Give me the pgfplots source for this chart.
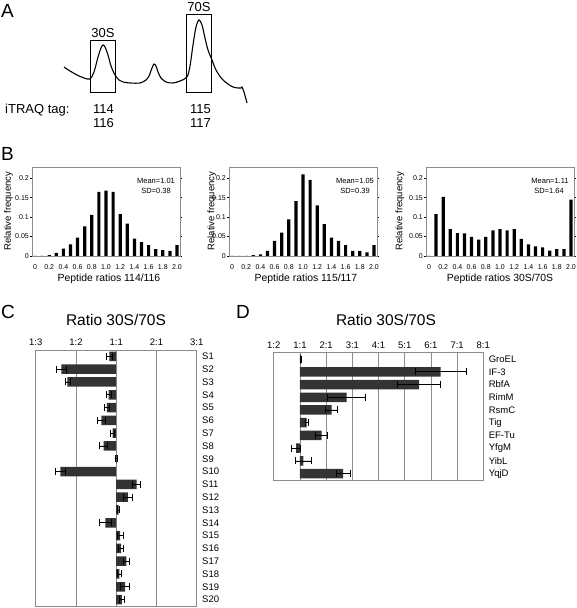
\documentclass[border=0pt]{standalone}
\usepackage{fontspec}
\setmainfont{Liberation Sans}
\usepackage{pgfplots}
\pgfplotsset{compat=1.18}
\definecolor{barc}{HTML}{333333}
\definecolor{gridc}{HTML}{8C8C8C}
\newcommand{\fs}[1]{\fontsize{#1}{#1}\selectfont}
\begin{document}
\begin{tikzpicture}
\path[use as bounding box] (0,0) rectangle (576pt,608pt);
\pgfplotsset{
  /pgf/number format/assume math mode=true,
  hist/.style={anchor=south west, scale only axis, width=148pt, height=89pt,
    ymin=0, ymax=0.229, xmin=-0.042, xmax=2.042, ybar, bar width=3.2pt,
    axis line style={gridc, line width=0.6pt},
    xtick={0,0.2,0.4,0.6,0.8,1,1.2,1.4,1.6,1.8,2},
    xticklabels={0,0.2,0.4,0.6,0.8,1.0,1.2,1.4,1.6,1.8,2.0},
    ytick={0,0.05,0.1,0.15,0.2}, yticklabels={0,0.05,0.1,0.15,0.2},
    tick label style={font=\fs{7}}, xtick style={draw=none},
    ytick style={black, line width=0.5pt}, tick align=outside, major tick length=2pt,
    xticklabel style={yshift=-3pt}, yticklabel style={inner sep=1pt}},
  ratio/.style={anchor=south west, scale only axis, xbar, bar width=9.5pt,
    axis line style={gridc, line width=0.7pt}, xmajorgrids, grid style={gridc, line width=0.7pt},
    major tick length=0pt, xticklabel pos=top, yticklabel pos=right,
    tick label style={font=\fs{9.5}}, yticklabel style={anchor=west, xshift=2pt},
    xticklabel style={yshift=1pt}},
  ebar/.style={fill=barc, draw=none, error bars/.cd, x dir=both, x explicit, error mark=|,
    error bar style={black, line width=0.8pt}, error mark options={black, mark size=3.5pt, line width=0.8pt}}
}
% overlay axis: panel A, letters and texts (pixel coordinates)
\begin{axis}[at={(0pt,0pt)}, anchor=south west, scale only axis, width=576pt, height=608pt,
  xmin=0, xmax=576, ymin=0, ymax=608, y dir=reverse, axis lines=none, clip=false]
\addplot[black, line width=1.1pt, smooth, tension=0.5] coordinates {
(64,67)(70,71)(77,75)(84,78)(90,79)(94,72)(98,57)(101,48)(103,45)(105,47)(108,55)(111,66)(115,75)(119,80)(123,82)(130,83)(140,83)(146,80)(149,76)(152,68)(154,64)(156,66)(158,72)(161,78)(166,82)(173,83)(180,81)(187,77)(190,66)(193,45)(196,27)(199,20)(202,25)(205,38)(208,50)(212,60)(216,70)(222,79)(228,84)(233,87)(238,88)(241,88)(242,87)(244,92)(247,103)};
\draw[black, line width=1pt] (axis cs:90,40.7) rectangle (axis cs:115.7,92.3);
\draw[black, line width=1pt] (axis cs:186.7,15) rectangle (axis cs:211,92.3);
\node[font=\fs{13}] at (axis cs:103,33) {30S};
\node[font=\fs{13}] at (axis cs:199,7) {70S};
\node[font=\fs{13}, anchor=base west, inner sep=0pt] at (axis cs:5,114) {iTRAQ tag:};
\node[font=\fs{13}, anchor=base, inner sep=0pt] at (axis cs:103.5,113.3) {114};
\node[font=\fs{13}, anchor=base, inner sep=0pt] at (axis cs:103.5,128) {116};
\node[font=\fs{13}, anchor=base, inner sep=0pt] at (axis cs:200.5,113.3) {115};
\node[font=\fs{13}, anchor=base, inner sep=0pt] at (axis cs:200.5,128) {117};
\node[font=\fs{19}, inner sep=0pt] at (axis cs:7.5,10.5) {A};
\node[font=\fs{19}, inner sep=0pt] at (axis cs:7.5,153.5) {B};
\node[font=\fs{19}, inner sep=0pt] at (axis cs:8,311.5) {C};
\node[font=\fs{19}, inner sep=0pt] at (axis cs:243,311.5) {D};
\node[font=\fs{15.5}, inner sep=0pt] at (axis cs:116,320) {Ratio 30S/70S};
\node[font=\fs{15.5}, inner sep=0pt] at (axis cs:386,320) {Ratio 30S/70S};
\node[font=\fs{7.5}, inner sep=0pt] at (axis cs:156,181) {Mean=1.01};
\node[font=\fs{7.5}, inner sep=0pt] at (axis cs:156,191) {SD=0.38};
\node[font=\fs{7.5}, inner sep=0pt] at (axis cs:355,181) {Mean=1.05};
\node[font=\fs{7.5}, inner sep=0pt] at (axis cs:355,191) {SD=0.39};
\node[font=\fs{7.5}, inner sep=0pt] at (axis cs:550,181) {Mean=1.11};
\node[font=\fs{7.5}, inner sep=0pt] at (axis cs:549,191) {SD=1.64};
\node[font=\fs{9.5}, rotate=90, inner sep=0pt] at (axis cs:8.5,211) {Relative frequency};
\node[font=\fs{9.5}, rotate=90, inner sep=0pt] at (axis cs:212,211) {Relative frequency};
\node[font=\fs{9.5}, rotate=90, inner sep=0pt] at (axis cs:400,211) {Relative frequency};
\node[font=\fs{10.4}, inner sep=0pt] at (axis cs:109,279) {Peptide ratios 114/116};
\node[font=\fs{10.4}, inner sep=0pt] at (axis cs:306,279) {Peptide ratios 115/117};
\node[font=\fs{10.4}, inner sep=0pt] at (axis cs:500,279) {Peptide ratios 30S/70S};
\end{axis}
% histograms
\begin{axis}[hist, at={(32pt,352pt)}]
\addplot[fill=black, draw=none] coordinates {
(0,0)(0.1,0)(0.2,0.0025)(0.3,0.008)(0.4,0.019)(0.5,0.03)(0.6,0.047)(0.7,0.076)(0.8,0.106)(0.9,0.165)(1.0,0.168)(1.1,0.165)(1.2,0.108)(1.3,0.083)(1.4,0.045)(1.5,0.036)(1.6,0.028)(1.7,0.018)(1.8,0.015)(1.9,0.013)(2.0,0.028)};
\end{axis}
\begin{axis}[hist, at={(229pt,352pt)}]
\addplot[fill=black, draw=none] coordinates {
(0,0)(0.1,0)(0.2,0)(0.3,0.002)(0.4,0.004)(0.5,0.013)(0.6,0.039)(0.7,0.06)(0.8,0.094)(0.9,0.141)(1.0,0.21)(1.1,0.196)(1.2,0.13)(1.3,0.082)(1.4,0.047)(1.5,0.039)(1.6,0.028)(1.7,0.013)(1.8,0.013)(1.9,0.009)(2.0,0.028)};
\end{axis}
\begin{axis}[hist, at={(426pt,352pt)}]
\addplot[fill=black, draw=none] coordinates {
(0,0)(0.1,0.108)(0.2,0.152)(0.3,0.069)(0.4,0.059)(0.5,0.058)(0.6,0.049)(0.7,0.042)(0.8,0.049)(0.9,0.066)(1.0,0.069)(1.1,0.066)(1.2,0.069)(1.3,0.044)(1.4,0.03)(1.5,0.025)(1.6,0.022)(1.7,0.014)(1.8,0.018)(1.9,0.018)(2.0,0.145)};
\end{axis}
% panel C
\begin{axis}[ratio, at={(35.7pt,2pt)}, width=161pt, height=256pt,
  xmin=-2, xmax=2, ymin=0.5, ymax=20.5,
  xtick={-2,-1,0,1,2}, xticklabels={1:3,1:2,1:1,2:1,3:1},
  ytick={1,...,20}, yticklabels={S20,S19,S18,S17,S16,S15,S14,S13,S12,S11,S10,S9,S8,S7,S6,S5,S4,S3,S2,S1}]
\addplot[ebar] coordinates {
(-0.17,20) +- (0.08,0)
(-1.36,19) +- (0.12,0)
(-1.21,18) +- (0.06,0)
(-0.19,17) +- (0.06,0)
(-0.23,16) +- (0.07,0)
(-0.37,15) +- (0.10,0)
(-0.09,14) +- (0.05,0)
(-0.31,13) +- (0.10,0)
(0.01,12) +- (0.03,0)
(-1.39,11) +- (0.13,0)
(0.51,10) +- (0.10,0)
(0.29,9) +- (0.11,0)
(0.06,8) +- (0.03,0)
(-0.27,7) +- (0.14,0)
(0.10,6) +- (0.07,0)
(0.12,5) +- (0.07,0)
(0.25,4) +- (0.07,0)
(0.08,3) +- (0.05,0)
(0.22,2) +- (0.12,0)
(0.14,1) +- (0.07,0)};
\end{axis}
% panel D
\begin{axis}[ratio, at={(273.8pt,128pt)}, width=209.5pt, height=127.3pt,
  xmin=-1, xmax=7, ymin=0.5, ymax=10.5,
  xtick={-1,0,1,2,3,4,5,6,7}, xticklabels={1:2,1:1,2:1,3:1,4:1,5:1,6:1,7:1,8:1},
  ytick={1,...,10}, yticklabels={YqjD,YibL,YfgM,EF-Tu,Tig,RsmC,RimM,RbfA,IF-3,GroEL}]
\addplot[ebar] coordinates {
(0.03,10) +- (0.03,0)
(5.37,9) +- (0.97,0)
(4.55,8) +- (0.83,0)
(1.78,7) +- (0.73,0)
(1.21,6) +- (0.23,0)
(0.25,5) +- (0.06,0)
(0.83,4) +- (0.23,0)
(-0.15,3) +- (0.16,0)
(0.13,2) +- (0.32,0)
(1.65,1) +- (0.27,0)};
\end{axis}
\end{tikzpicture}
\end{document}
